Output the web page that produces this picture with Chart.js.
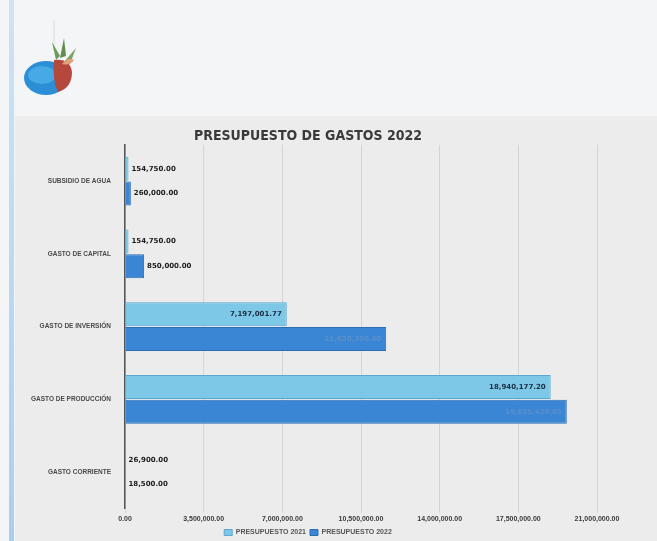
<!DOCTYPE html>
<html>
<head>
<meta charset="utf-8">
<script src="https://cdn.jsdelivr.net/npm/chart.js@4.4.1/dist/chart.umd.min.js"></script>
<style>
  html,body{margin:0;padding:0;width:657px;height:541px;overflow:hidden;background:#f3f5f7;font-family:"DejaVu Sans",sans-serif}
  #strip{position:absolute;left:9px;top:0;width:5px;height:541px;background:linear-gradient(#cfe3f3,#a9cfee)}
  #logo{position:absolute;left:18px;top:20px}
  #box{position:absolute;left:15px;top:116px;width:642px;height:430px;background:#ececec}
</style>
</head>
<body>
<div id="strip"></div>
<svg id="logo" width="80" height="85" viewBox="0 0 80 85">
  <line x1="36" y1="0" x2="36" y2="30" stroke="#dde3e8" stroke-width="1.5"/>
  <ellipse cx="28" cy="58" rx="22" ry="17" fill="#2c8fd6"/>
  <ellipse cx="24" cy="55" rx="14" ry="9" fill="#4fb0ea" opacity=".8"/>
  <path d="M36 40 Q52 38 54 52 Q54 68 40 72 Q34 60 36 40Z" fill="#b4483c"/>
  <path d="M38 40 L34 22 L42 36Z" fill="#6f9a5a"/>
  <path d="M42 38 L46 18 L48 36Z" fill="#5f8d4e"/>
  <path d="M46 42 L58 28 L52 44Z" fill="#7aa366"/>
  <path d="M44 44 Q50 36 56 40 Q52 46 44 44Z" fill="#e0a07a"/>
</svg>
<div id="box"><canvas id="c" width="642" height="430"></canvas></div>
<script>
// ===== datos =====
const categorias = ["SUBSIDIO DE AGUA","GASTO DE CAPITAL","GASTO DE INVERSIÓN","GASTO DE PRODUCCIÓN","GASTO CORRIENTE"];
const serieA = [154750.00, 154750.00, 7197001.77, 18940177.20, 26900.00];   // barra clara
const serieB = [260000.00, 850000.00, 11620350.40, 19655420.85, 18500.00]; // barra oscura
const nombres = ["PRESUPUESTO 2021","PRESUPUESTO 2022"];
const ticksX = [0, 3500000, 7000000, 10500000, 14000000, 17500000, 21000000];

function fmtMoney(v){
  return v.toLocaleString("en-US",{minimumFractionDigits:2,maximumFractionDigits:2});
}

// ===== etiquetas de valor =====
const etiquetas = {
  id:"etiquetas",
  afterDatasetsDraw(chart){
    const ctx = chart.ctx;
    ctx.save();
    ctx.font = "bold 7px 'DejaVu Sans'";
    ctx.textBaseline = "middle";
    chart.data.datasets.forEach((ds,di)=>{
      chart.getDatasetMeta(di).data.forEach((bar,i)=>{
        const txt = fmtMoney(ds.data[i]);
        const w = bar.x - bar.base;
        if(w > 70){
          ctx.textAlign = "right";
          ctx.fillStyle = di===0 ? "#1d2f44" : "#5a8fca";
          ctx.fillText(txt, bar.x-5, bar.y);
        } else {
          ctx.textAlign = "left";
          ctx.fillStyle = "#1a1a1a";
          ctx.fillText(txt, bar.x+3, bar.y);
        }
      });
    });
    ctx.restore();
  }
};

new Chart(document.getElementById("c"),{
  type:"bar",
  data:{
    labels:categorias,
    datasets:[
      {label:nombres[0], data:serieA, backgroundColor:"#7dc7e7", borderColor:"#5aa7cf", borderWidth:1,
       categoryPercentage:0.68, barPercentage:0.97},
      {label:nombres[1], data:serieB, backgroundColor:"#3a86d4", borderColor:"#2c6cb4", borderWidth:1,
       categoryPercentage:0.68, barPercentage:0.97}
    ]
  },
  options:{
    indexAxis:"y",
    responsive:false,
    animation:false,
    layout:{padding:{left:4,right:60,top:0,bottom:0}},
    scales:{
      x:{
        min:0, max:21000000,
        afterBuildTicks(s){ s.ticks = ticksX.map(v=>({value:v})); },
        ticks:{color:"#3a3a3a", font:{size:7,weight:"bold"}, padding:2,
               callback:v=>fmtMoney(v)},
        grid:{color:"#d4d4d4", drawTicks:true, tickLength:4},
        border:{display:false}
      },
      y:{
        afterFit(s){ s.width = 106; },
        ticks:{color:"#4a4a4a", font:{size:6.5,weight:"bold"}, padding:6},
        grid:{display:false},
        border:{color:"#555", width:1.5}
      }
    },
    plugins:{
      title:{display:true, text:"PRESUPUESTO DE GASTOS 2022", color:"#3a3a3a",
             font:{family:"'DejaVu Sans Condensed'", size:14, weight:"bold"}, padding:{top:12,bottom:0}},
      legend:{position:"bottom", labels:{color:"#555", font:{size:7,weight:"bold"}, boxWidth:8, boxHeight:6, padding:4}},
      tooltip:{enabled:false}
    }
  },
  plugins:[etiquetas]
});
</script>
</body>
</html>
